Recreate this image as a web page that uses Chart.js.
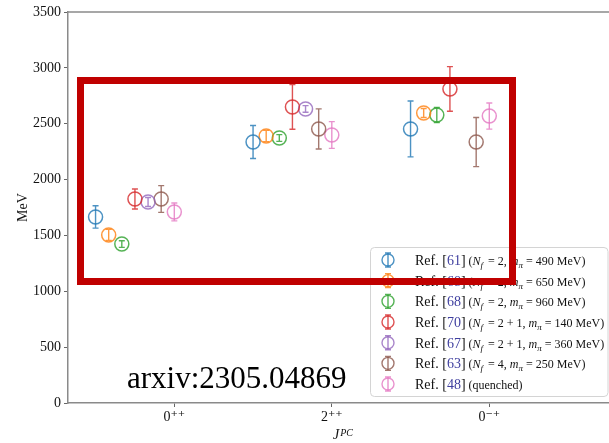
<!DOCTYPE html>
<html><head><meta charset="utf-8">
<script src="https://cdn.jsdelivr.net/npm/chart.js@4.4.0/dist/chart.umd.min.js"></script>
<style>html,body{margin:0;padding:0;background:#fff;overflow:hidden}#wrap{width:609px;height:443px;position:relative}</style>
</head><body><div id="wrap"><canvas id="c" width="609" height="443"></canvas></div>
<script>
// ---- data ----
const categories = ['0⁺⁺', '2⁺⁺', '0⁻⁺'];
const yTicks = [0, 500, 1000, 1500, 2000, 2500, 3000, 3500];

const refNumbers = ['61', '68', '68', '70', '67', '63', '48'];
const nfValues   = ['2', '2', '2', '2 + 1', '2 + 1', '4', null];
const mpiValues  = ['490', '650', '960', '140', '360', '250', null];
const colors = ['#1f77b4', '#ff7f0e', '#2ca02c', '#d62728', '#9467bd', '#8c564b', '#e377c2'];

// masses [0++, 2++, 0-+] and errors
const ref61 = [1665, 2336, 2453];   const ref61Err = [100, 148, 250];
const ref68a = [1504, 2390, 2596];  const ref68aErr = [50, 50, 40];
const ref68b = [1423, 2372, 2578];  const ref68bErr = [30, 30, 67];
const ref70 = [1826, 2650, 2811];   const ref70Err = [90, 200, 200];
const ref67 = [1799, 2632, null];   const ref67Err = [40, 30, null];
const ref63 = [1826, 2453, 2336];   const ref63Err = [120, 180, 220];
const ref48 = [1710, 2399, 2569];   const ref48Err = [80, 120, 117];

const seriesValues = [ref61, ref68a, ref68b, ref70, ref67, ref63, ref48];
const seriesErrors = [ref61Err, ref68aErr, ref68bErr, ref70Err, ref67Err, ref63Err, ref48Err];

// ---- helpers ----
const SERIF = "'Liberation Serif', 'DejaVu Serif', serif";
function alpha(hex, a) {
  const n = parseInt(hex.slice(1), 16);
  return `rgba(${(n >> 16) & 255},${(n >> 8) & 255},${n & 255},${a})`;
}
const nSeries = seriesValues.length;
function offsetOf(i) { return -0.5 + i / 12; }

const datasets = seriesValues.map((vals, i) => ({
  label: 'Ref. [' + refNumbers[i] + ']',
  data: vals.map((v, k) => v == null ? null : { x: k + offsetOf(i), y: v, err: seriesErrors[i][k] }).filter(p => p),
  showLine: false,
  pointStyle: 'circle',
  pointRadius: 7,
  pointHoverRadius: 7,
  pointBorderWidth: 1.5,
  borderColor: alpha(colors[i], 0.8),
  backgroundColor: 'rgba(0,0,0,0)'
}));

const errorBars = {
  id: 'errorBars',
  afterDatasetsDraw(chart) {
    const ctx = chart.ctx, xs = chart.scales.x, ys = chart.scales.y;
    ctx.save();
    chart.data.datasets.forEach((ds) => {
      ctx.strokeStyle = ds.borderColor;
      ctx.lineWidth = 1.4;
      ds.data.forEach(p => {
        const x = xs.getPixelForValue(p.x);
        const y1 = ys.getPixelForValue(p.y + p.err);
        const y2 = ys.getPixelForValue(p.y - p.err);
        ctx.beginPath();
        ctx.moveTo(x, y1); ctx.lineTo(x, y2);
        ctx.moveTo(x - 3, y1); ctx.lineTo(x + 3, y1);
        ctx.moveTo(x - 3, y2); ctx.lineTo(x + 3, y2);
        ctx.stroke();
      });
    });
    ctx.restore();
  }
};

function drawSegments(ctx, x, y, segs) {
  segs.forEach(s => {
    ctx.font = s.f;
    ctx.fillStyle = s.c || '#111';
    ctx.fillText(s.t, x, y + (s.dy || 0));
    x += ctx.measureText(s.t).width + (s.sp || 0);
  });
  return x;
}

const decorations = {
  id: 'decorations',
  afterDraw(chart) {
    const ctx = chart.ctx, a = chart.chartArea;
    ctx.save();
    // top spine
    ctx.strokeStyle = '#8a8a8a'; ctx.lineWidth = 1.5;
    ctx.beginPath(); ctx.moveTo(a.left, a.top); ctx.lineTo(a.right, a.top); ctx.stroke();

    // axis titles
    ctx.textBaseline = 'alphabetic';
    ctx.fillStyle = '#111';
    ctx.font = '14px ' + SERIF;
    ctx.save();
    ctx.translate(27, (a.top + a.bottom) / 2);
    ctx.rotate(-Math.PI / 2);
    ctx.textAlign = 'center';
    ctx.fillText('MeV', 0, 0);
    ctx.restore();
    ctx.textAlign = 'left';
    drawSegments(ctx, 333, 439, [
      { t: 'J', f: 'italic 14px ' + SERIF, sp: 1 },
      { t: 'PC', f: 'italic 10px ' + SERIF, dy: -3 }
    ]);

    // watermark text
    ctx.font = '31px ' + SERIF;
    ctx.fillStyle = '#000';
    ctx.fillText('arxiv:2305.04869', 127, 388);

    // legend
    ctx.beginPath();
    ctx.roundRect(370.5, 247.5, 237.5, 149, 4);
    ctx.fillStyle = 'rgba(255,255,255,0.85)'; ctx.fill();
    ctx.strokeStyle = '#d4d4d4'; ctx.lineWidth = 1; ctx.stroke();
    for (let i = 0; i < nSeries; i++) {
      const base = 265 + 20.67 * i;
      const cy = base - 5, cx = 388;
      ctx.strokeStyle = alpha(colors[i], 0.8); ctx.lineWidth = 1.4;
      ctx.beginPath(); ctx.arc(cx, cy, 6, 0, Math.PI * 2); ctx.stroke();
      ctx.beginPath();
      ctx.moveTo(cx, cy - 7); ctx.lineTo(cx, cy + 7);
      ctx.moveTo(cx - 3, cy - 7); ctx.lineTo(cx + 3, cy - 7);
      ctx.moveTo(cx - 3, cy + 7); ctx.lineTo(cx + 3, cy + 7);
      ctx.stroke();
      const fN = '14px ' + SERIF;
      let x = drawSegments(ctx, 415, base, [
        { t: 'Ref. [', f: fN },
        { t: refNumbers[i], f: fN, c: '#3f3f9f' },
        { t: ']', f: fN, sp: 3 }
      ]);
      const fs = '12px ' + SERIF, fi = 'italic 12px ' + SERIF, fsub = 'italic 9px ' + SERIF;
      if (nfValues[i] == null) {
        drawSegments(ctx, x, base, [{ t: '(quenched)', f: fs }]);
      } else {
        drawSegments(ctx, x, base, [
          { t: '(', f: fs },
          { t: 'N', f: fi },
          { t: 'f', f: fsub, dy: 3, sp: 2 },
          { t: ' = ' + nfValues[i] + ', ', f: fs },
          { t: 'm', f: fi },
          { t: 'π', f: fsub, dy: 3 },
          { t: ' = ' + mpiValues[i] + ' MeV)', f: fs }
        ]);
      }
    }

    // red highlight rectangle
    ctx.strokeStyle = '#c00000'; ctx.lineWidth = 7;
    ctx.strokeRect(80.5, 80.5, 432, 201);
    ctx.restore();
  }
};

new Chart(document.getElementById('c'), {
  type: 'scatter',
  data: { datasets },
  options: {
    responsive: false,
    devicePixelRatio: 1,
    animation: false,
    events: [],
    layout: { autoPadding: false, padding: { top: 12, right: 0, left: 0, bottom: 0 } },
    plugins: { legend: { display: false }, tooltip: { enabled: false } },
    scales: {
      x: {
        type: 'linear',
        min: -0.675, max: 2.76,
        afterBuildTicks: s => { s.ticks = [0, 1, 2].map(v => ({ value: v })); },
        afterFit: s => { s.height = 40; s.paddingLeft = 0; s.paddingRight = 0; },
        ticks: {
          callback: v => categories[v],
          font: { family: SERIF, size: 14 },
          color: '#111',
          padding: 2,
          maxRotation: 0
        },
        grid: { drawOnChartArea: false, drawTicks: true, tickLength: 4, tickColor: '#666', tickWidth: 1 },
        border: { color: '#8a8a8a', width: 1.5 }
      },
      y: {
        min: 0, max: 3500,
        afterBuildTicks: s => { s.ticks = yTicks.map(v => ({ value: v })); },
        afterFit: s => { s.width = 68; s.paddingTop = 0; s.paddingBottom = 0; },
        ticks: {
          callback: v => String(v),
          font: { family: SERIF, size: 14 },
          color: '#111',
          padding: 3
        },
        grid: { drawOnChartArea: false, drawTicks: true, tickLength: 4, tickColor: '#666', tickWidth: 1 },
        border: { color: '#8a8a8a', width: 1.5 }
      }
    }
  },
  plugins: [errorBars, decorations]
});
</script></body></html>
